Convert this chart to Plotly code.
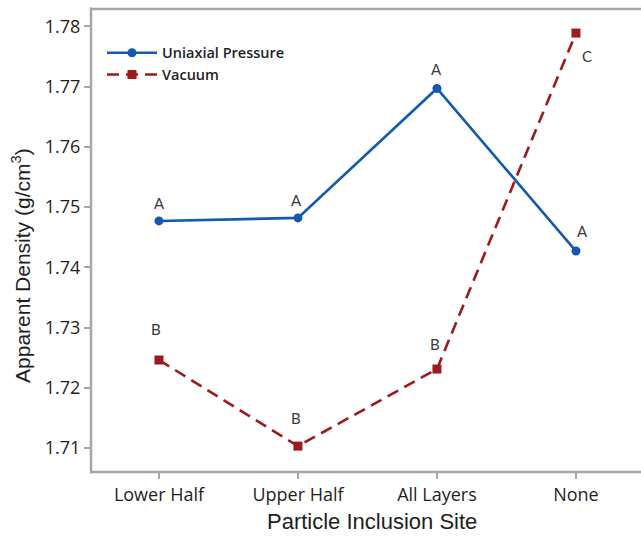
import plotly.graph_objects as go

# Particle inclusion sites and mean apparent density for each processing route
sites = ["Lower Half", "Upper Half", "All Layers", "None"]
uniaxial = [1.7477, 1.7482, 1.7697, 1.7427]
vacuum = [1.7246, 1.7103, 1.7231, 1.7789]

# Tukey grouping letters for each mean
uniaxial_groups = ["A", "A", "A", "A"]
vacuum_groups = ["B", "B", "B", "C"]

y_ticks = [1.71, 1.72, 1.73, 1.74, 1.75, 1.76, 1.77, 1.78]

BLUE = "#1458b0"
RED = "#9e1a1a"
AXIS = "#a6a6a6"
TEXT = "#1e1e1e"

fig = go.Figure()
fig.add_trace(go.Scatter(
    x=sites, y=uniaxial, name="Uniaxial Pressure", mode="lines+markers",
    line=dict(color=BLUE, width=2.6),
    marker=dict(symbol="circle", size=9, color=BLUE),
))
fig.add_trace(go.Scatter(
    x=sites, y=vacuum, name="Vacuum", mode="lines+markers",
    line=dict(color=RED, width=2.6, dash="12px,7px"),
    marker=dict(symbol="square", size=9, color=RED),
))

letter_font = dict(family="Lato", size=15, color="#3a3a3a")
annotations = []
u_shift = [(1, 18), (-1, 18), (0, 19), (7, 20)]
for s, v, g, (dx, dy) in zip(sites, uniaxial, uniaxial_groups, u_shift):
    annotations.append(dict(x=s, y=v, text=g, showarrow=False, xshift=dx,
                            yshift=dy, font=letter_font))
v_shift = [(-3, 31), (-2, 28), (-2, 25), (11, -23)]
for s, v, g, (dx, dy) in zip(sites, vacuum, vacuum_groups, v_shift):
    annotations.append(dict(x=s, y=v, text=g, showarrow=False, xshift=dx,
                            yshift=dy, font=letter_font))

# y-axis title, set a little below the middle of the axis
annotations.append(dict(
    text="Apparent Density (g/cm<sup>3</sup>)", textangle=-90,
    xref="paper", yref="paper", x=-0.1, y=0.445,
    xanchor="right", yanchor="middle", showarrow=False,
    font=dict(family="Liberation Sans", size=21, color=TEXT),
))

# x-axis title
annotations.append(dict(
    text="Particle Inclusion Site",
    xref="paper", yref="paper", x=0.51, y=-0.075,
    xanchor="center", yanchor="top", showarrow=False,
    font=dict(family="Liberation Sans", size=22, color=TEXT),
))

frame = dict(color=AXIS, width=2.5)
fig.update_layout(
    width=641, height=537,
    margin=dict(l=91, r=0, t=9, b=65, autoexpand=False),
    paper_bgcolor="white", plot_bgcolor="white",
    showlegend=True,
    legend=dict(
        x=0.02, y=0.94, xanchor="left", yanchor="top",
        bgcolor="rgba(0,0,0,0)", tracegroupgap=0, itemwidth=50,
        font=dict(family="Open Sans", size=14.5, color=TEXT, weight=600),
    ),
    annotations=annotations,
    shapes=[
        # keep the right-hand side of the plotting area open
        dict(type="rect", xref="paper", yref="paper", x0=0.985, x1=1.05,
             y0=0.004, y1=0.996, fillcolor="white", line=dict(width=0),
             layer="above"),
        # open frame: left, bottom and top edges of the plotting area
        dict(type="line", xref="paper", yref="paper", x0=0, x1=1.01,
             y0=1, y1=1, line=frame),
        dict(type="line", xref="paper", yref="paper", x0=0, x1=1.01,
             y0=0, y1=0, line=frame),
        dict(type="line", xref="paper", yref="paper", x0=0, x1=0,
             y0=-0.003, y1=1.003, line=frame),
    ],
    xaxis=dict(
        type="category", range=[-0.489, 3.468],
        showline=False, automargin=False,
        ticks="outside", ticklen=6, tickcolor=AXIS, tickwidth=1.5,
        showgrid=False, zeroline=False,
        tickfont=dict(family="Open Sans", size=18, color=TEXT),
    ),
    yaxis=dict(
        range=[1.7060, 1.7829], automargin=False,
        tickvals=y_ticks, ticktext=[f"{t:.2f}" for t in y_ticks],
        showline=False,
        ticks="outside", ticklen=6, tickcolor=AXIS, tickwidth=1.5,
        showgrid=False, zeroline=False,
        tickfont=dict(family="Open Sans", size=18, color=TEXT),
    ),
)

fig.write_html(
    "out.html",
    post_script="document.body.style.margin='0';"
                "document.documentElement.style.overflow='hidden';"
                "document.body.style.overflow='hidden';",
)
